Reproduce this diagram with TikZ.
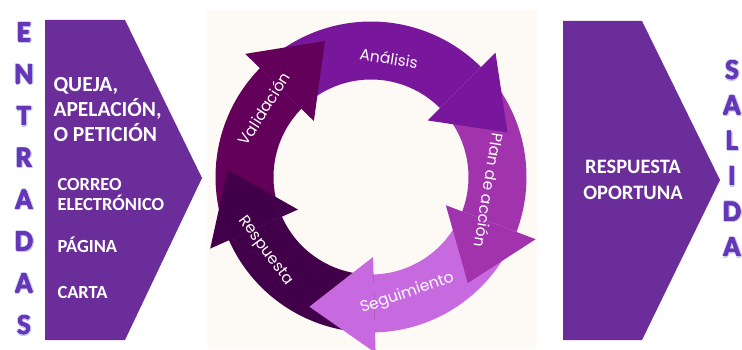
\documentclass[tikz,border=0pt]{standalone}
\usepackage{fontspec}
\setmainfont{Carlito}
\newfontfamily\ringfont{Poppins}
\usetikzlibrary{calc}
\definecolor{pent}{HTML}{6A2D9A}
\definecolor{cream}{HTML}{FDF9F4}
\definecolor{letterc}{HTML}{6536B8}
\definecolor{lettersh}{HTML}{C2C8F0}
\definecolor{anal}{HTML}{78179B}
\definecolor{plan}{HTML}{A134AC}
\definecolor{segu}{HTML}{C76AE0}
\definecolor{resp}{HTML}{43004A}
\definecolor{vali}{HTML}{62005A}
\tikzset{
  bigletter/.style={inner sep=0pt, text=letterc, font=\fontsize{29}{29}\selectfont\bfseries},
  bigshadow/.style={inner sep=0pt, text=lettersh, font=\fontsize{29}{29}\selectfont\bfseries},
  maintext/.style={inner sep=0pt, anchor=base west, text=white, font=\fontsize{21.5}{25}\selectfont\bfseries},
  subtext/.style={inner sep=0pt, anchor=base west, text=white, font=\fontsize{18.5}{20}\selectfont\bfseries},
  outtext/.style={inner sep=0pt, anchor=base, text=white, font=\fontsize{20.5}{26}\selectfont\bfseries},
  ringlbl/.style={inner sep=0pt, text=white, font=\ringfont\fontsize{15.5}{17}\selectfont},
}
\begin{document}
\begin{tikzpicture}[x=1pt,y=1pt]
\useasboundingbox (0,0) rectangle (742,349);
\fill[white] (0,0) rectangle (742,349);
% cream picture background
\fill[cream] (207,0) rectangle (537,339);
% pentagons
\fill[pent] (45,329) -- (125,329) -- (202,171) -- (125,9) -- (45,9) -- cycle;
\fill[pent] (563,328) -- (642,328) -- (720,169) -- (642,9) -- (563,9) -- cycle;
% ENTRADAS
\foreach \L [count=\i from 0] in {E,N,T,R,A,D,A,S} {
  \foreach \dx/\dy in {-1.2/0,1.6/0,0/1.2,0/-1.6,1.2/-1.2,-0.9/0.9} {
    \node[bigshadow] at ({24+\dx},{316.5-41.8*\i+\dy}) {\L};
  }
  \foreach \dx/\dy in {-0.35/0,0.35/0,0/0.35,0/-0.35} {
    \node[bigletter] at ({24+\dx},{316.5-41.8*\i+\dy}) {\L};
  }
  \node[bigletter] (ent\i) at (24,{316.5-41.8*\i}) {\L};
}
% SALIDA
\foreach \L [count=\i from 0] in {S,A,L,I,D,A} {
  \foreach \dx/\dy in {-1.2/0,1.6/0,0/1.2,0/-1.6,1.2/-1.2,-0.9/0.9} {
    \node[bigshadow] at ({732+\dx},{279-35.4*\i+\dy}) {\L};
  }
  \foreach \dx/\dy in {-0.35/0,0.35/0,0/0.35,0/-0.35} {
    \node[bigletter] at ({732+\dx},{279-35.4*\i+\dy}) {\L};
  }
  \node[bigletter] (sal\i) at (732,{279-35.4*\i}) {\L};
}
% left texts
\node[maintext] (q1) at (53.3,257.5) {QUEJA,};
\node[maintext] (q2) at (53.3,232.5) {APELACIÓN,};
\node[maintext] (q3) at (53.3,207.5) {O PETICIÓN};
\node[subtext] (c1) at (57.3,158.3) {CORREO};
\node[subtext] (c2) at (57.3,138.3) {ELECTRÓNICO};
\node[subtext] (pg) at (57.3,96.7) {PÁGINA};
\node[subtext] (ct) at (57.3,50.7) {CARTA};
% right texts
\node[outtext] (r1) at (633,175.7) {RESPUESTA};
\node[outtext] (r2) at (633,149.7) {OPORTUNA};
% cycle
\coordinate (C) at (371,172);
\foreach \col/\s/\e in {anal/135.6/45, plan/45/-20.7, segu/-20.7/-88.5, resp/-88.5/-156, vali/-156/-224.4} {
  \fill[\col] ($(C)+(\s:155.5)$) arc[start angle=\s, end angle=\e, radius=155.5pt]
     -- ($(C)+(\e:97.5)$) arc[start angle=\e, end angle=\s, radius=97.5pt] -- cycle;
}
\foreach \col/\e in {anal/45, plan/-20.7, segu/-88.5, resp/-156, vali/-224.4} {
  \fill[\col] ($(C)+(\e:176)$) -- ($(C)+({\e-26.9}:143.6)$) -- ($(C)+(\e:80)$) -- cycle;
}
\node[ringlbl, rotate=-9] (lanal) at ($(C)+(81.4:120)$) {Análisis};
\node[ringlbl, rotate=-99] (lplan) at ($(C)+(-6.5:119)$) {Plan de acción};
\node[ringlbl, rotate=19] (lsegu) at ($(C)+(-72.7:122)$) {Seguimiento};
\node[ringlbl, rotate=-53.5] (lresp) at ($(C)+(215:129)$) {Respuesta};
\node[ringlbl, rotate=57.5] (lvali) at ($(C)+(147.5:127)$) {Validación};
\end{tikzpicture}
\end{document}
